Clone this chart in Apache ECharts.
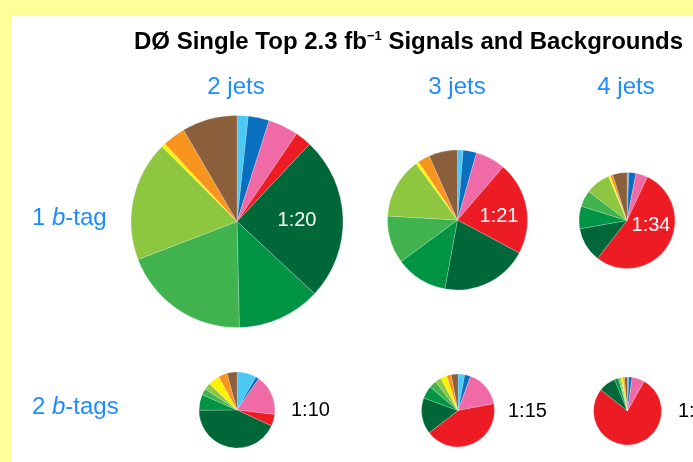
<!DOCTYPE html>
<html>
<head>
<meta charset="utf-8">
<script src="https://cdn.jsdelivr.net/npm/echarts@6/dist/echarts.min.js"></script>
<style>
html,body{margin:0;padding:0;background:#FFFF99;}
#c{width:693px;height:462px;}
</style>
</head>
<body>
<div id="c"></div>
<script>
// Components (clockwise from 12 o'clock)
var components = ['tb', 'tqb', 'tt→ll', 'tt→l+jets', 'Wbb', 'Wcc', 'Wcj', 'Wjj', 'Zbb', 'Zjj', 'Multijets'];
var colors = ['#4CC8F4', '#0A6FBE', '#EF6AA7', '#ED1C24', '#006838', '#009444', '#40B34F', '#8DC63F', '#FFF200', '#F7941D', '#8B5E3C'];

// Share of each component (percent)
var jets2tag1 = [1.7, 3.2, 4.6, 2.5, 24.9, 12.7, 19.5, 18.3, 0.6, 3.5, 8.4];
var jets3tag1 = [1.3, 3.1, 6.9, 21.5, 20.1, 12.0, 11.0, 14.0, 0.7, 2.8, 6.6];
var jets4tag1 = [0.6, 2.4, 4.0, 53.6, 11.7, 7.6, 5.5, 8.4, 0.6, 0.9, 4.8];
var jets2tag2 = [8.3, 1.4, 17.2, 5.0, 43.1, 6.7, 2.7, 2.8, 4.9, 3.8, 4.2];
var jets3tag2 = [3.0, 2.6, 16.4, 42.5, 16.1, 5.6, 3.3, 2.7, 2.8, 2.0, 3.0];
var jets4tag2 = [0.6, 1.6, 6.0, 77.5, 8.1, 1.8, 0.6, 0.8, 0.8, 0.8, 1.4];

var colHeaders = ['2 jets', '3 jets', '4 jets'];
var rowHeaders = ['1 {i|b}-tag', '2 {i|b}-tags'];
var ratios1 = ['1:20', '1:21', '1:34'];
var ratios2 = ['1:10', '1:15', '1:13'];

var FONT = '"Liberation Sans", Arial, Helvetica, sans-serif';

function pieSeries(vals, cx, cy, r) {
  return {
    type: 'pie',
    center: [cx, cy],
    radius: r,
    startAngle: 90,
    clockwise: true,
    animation: false,
    silent: true,
    label: {show: false},
    labelLine: {show: false},
    itemStyle: {borderWidth: 0.4, borderColor: 'rgba(255,255,255,0.5)'},
    data: vals.map(function (v, i) {
      return {name: components[i], value: v, itemStyle: {color: colors[i]}};
    })
  };
}

function txt(s, x, y, size, color, align, extra) {
  var st = {
    text: s, fill: color, fontSize: size, fontFamily: FONT,
    align: align || 'center', verticalAlign: 'middle'
  };
  if (extra) for (var k in extra) st[k] = extra[k];
  return {type: 'text', x: x, y: y, z: 10, style: st};
}

var chart = echarts.init(document.getElementById('c'), null, {renderer: 'canvas'});

var graphics = [
  {type: 'rect', shape: {x: 12, y: 15, width: 700, height: 460}, style: {fill: '#FFFFFF'}, z: 0},
  txt('DØ Single Top 2.3 fb{sup|−1} Signals and Backgrounds', 134, 42, 24, '#000', 'left', {
    fontWeight: 'bold',
    rich: {
      sup: {fontSize: 13, fontWeight: 'bold', fontFamily: FONT, fill: '#000', verticalAlign: 'top', lineHeight: 13}
    }
  }),
  txt(colHeaders[0], 236, 87, 24, '#1E8CFF'),
  txt(colHeaders[1], 457, 87, 24, '#1E8CFF'),
  txt(colHeaders[2], 626, 87, 24, '#1E8CFF'),
  txt(rowHeaders[0], 32, 218, 24, '#1E8CFF', 'left', {rich: {i: {fontStyle: 'italic', fontSize: 24, fontFamily: FONT, fill: '#1E8CFF'}}}),
  txt(rowHeaders[1], 32, 407, 24, '#1E8CFF', 'left', {rich: {i: {fontStyle: 'italic', fontSize: 24, fontFamily: FONT, fill: '#1E8CFF'}}}),
  txt(ratios1[0], 297, 220, 20, '#FFFFFF'),
  txt(ratios1[1], 499, 216, 20, '#FFFFFF'),
  txt(ratios1[2], 651, 225, 20, '#FFFFFF'),
  txt(ratios2[0], 291, 410, 20, '#000000', 'left'),
  txt(ratios2[1], 508, 411, 20, '#000000', 'left'),
  txt(ratios2[2], 678, 411, 20, '#000000', 'left')
];

chart.setOption({
  backgroundColor: '#FFFF99',
  animation: false,
  graphic: graphics,
  series: [
    pieSeries(jets2tag1, 237, 221.5, 106),
    pieSeries(jets3tag1, 457.5, 220, 70),
    pieSeries(jets4tag1, 627, 220.5, 48),
    pieSeries(jets2tag2, 237, 410, 38),
    pieSeries(jets3tag2, 458, 410.5, 36.5),
    pieSeries(jets4tag2, 627.5, 411, 34)
  ]
});
</script>
</body>
</html>
